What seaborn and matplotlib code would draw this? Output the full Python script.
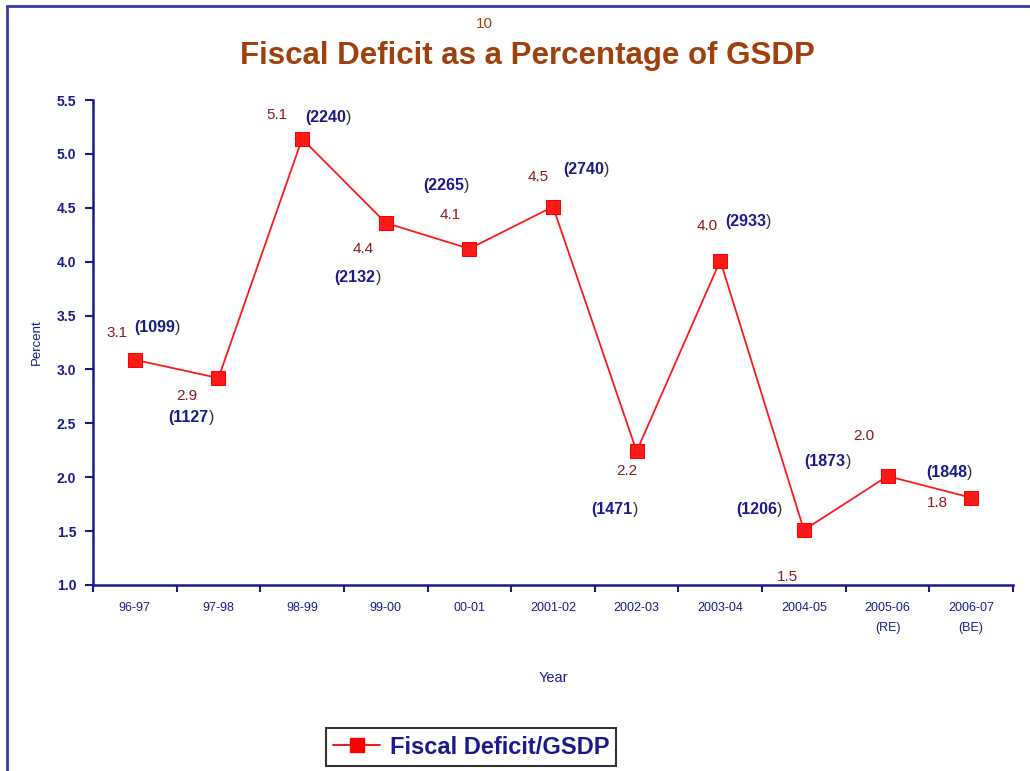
import seaborn as sns
import matplotlib.pyplot as plt
import pandas as pd
from matplotlib.lines import Line2D

years = ["96-97", "97-98", "98-99", "99-00", "00-01", "2001-02", "2002-03",
         "2003-04", "2004-05", "2005-06\n(RE)", "2006-07\n(BE)"]
deficit_pct = [3.09, 2.92, 5.14, 4.36, 4.12, 4.51, 2.24, 4.01, 1.51, 2.01, 1.81]
deficit_amt = [1099, 1127, 2240, 2132, 2265, 2740, 1471, 2933, 1206, 1873, 1848]

# label offsets in pixels from each point (value label centred, amount label left-aligned)
pct_off = [(-18, 27), (-32, -18), (-25, 24), (-23, -26), (-19, 34), (-15, 30),
           (-10, -20), (-13, 35), (-16, -47), (-24, 40), (-34, -5)]
amt_off = [(-1, 32), (-50, -39), (3, 21), (-51, -55), (-46, 63), (10, 37),
           (-45, -58), (5, 39), (-68, 21), (-83, 15), (-45, 25)]

navy = "#1a1a8c"
brown = "#a0400c"
val_col = "#8b1a1a"

df = pd.DataFrame({"Year": years, "Percent": deficit_pct})

sns.set_style("white")
plt.rcParams["font.family"] = ["Liberation Sans", "DejaVu Sans"]

fig = plt.figure(figsize=(10.3, 7.71), dpi=100)
ax = fig.add_axes([93 / 1030, 1 - 585 / 771, (1013 - 93) / 1030, (585 - 100) / 771])

sns.lineplot(data=df, x="Year", y="Percent", ax=ax, color="#ff1a1a", linewidth=1.3,
             marker="s", markersize=10.5, markeredgecolor="red", sort=False)

ax.set_xlim(-0.5, len(years) - 0.5)
ax.set_ylim(1.0, 5.5)
ax.set_yticks([1.0, 1.5, 2.0, 2.5, 3.0, 3.5, 4.0, 4.5, 5.0, 5.5])
ax.set_yticklabels([f"{v:.1f}" for v in ax.get_yticks()], fontsize=10,
                   fontweight="bold", color=navy)
ax.set_xticks(range(len(years)))
ax.set_xticklabels(years, fontsize=9, color=navy, linespacing=1.9)
ax.set_xticks([i - 0.5 for i in range(len(years) + 1)], minor=True)
ax.tick_params(axis="x", which="major", bottom=False, length=0, pad=12)
ax.tick_params(axis="x", which="minor", bottom=True, length=5, width=1.5,
               color=navy, direction="out")
ax.tick_params(axis="y", left=True, length=6, width=1.5, color=navy,
               direction="out", pad=6)

for side in ["top", "right"]:
    ax.spines[side].set_visible(False)
for side in ["left", "bottom"]:
    ax.spines[side].set_color(navy)
    ax.spines[side].set_linewidth(1.8)

ax.set_xlabel("Year", fontsize=10.5, color=navy, labelpad=27)
ax.set_ylabel("Percent", fontsize=9.5, color=navy, labelpad=10)

for i, (v, a) in enumerate(zip(deficit_pct, deficit_amt)):
    ax.annotate(f"{v:.1f}", xy=(i, v), xytext=pct_off[i], textcoords="offset pixels",
                ha="center", va="center", fontsize=11, color=val_col)
    t = ax.annotate(f"({a}", xy=(i, v), xytext=amt_off[i], textcoords="offset pixels",
                    ha="left", va="center", fontsize=11.5, fontweight="bold", color=navy)
    ax.annotate(")", xy=(1, 0.5), xycoords=t, ha="left", va="center",
                fontsize=11.5, color="#333333")

fig.text(484 / 1030, 1 - 24 / 771, "10", ha="center", va="center",
         fontsize=11, color=brown)
fig.text(527 / 1030, 1 - 56 / 771, "Fiscal Deficit as a Percentage of GSDP",
         ha="center", va="center", fontsize=22.5, fontweight="bold", color=brown)

handle = Line2D([], [], color="red", marker="s", markersize=10.5, linewidth=1.3)
leg = fig.legend([handle], ["Fiscal Deficit/GSDP"], loc="center",
                 bbox_to_anchor=(471 / 1030, 1 - 747 / 771), frameon=True,
                 fancybox=False, handlelength=2.0, handletextpad=0.4,
                 borderpad=0.3, borderaxespad=0,
                 prop={"size": 17, "weight": "bold"})
leg.get_frame().set_edgecolor("black")
leg.get_frame().set_linewidth(1.5)
for txt in leg.get_texts():
    txt.set_color(navy)

# outer frame (only the left and top edges are visible in the original)
fig.add_artist(Line2D([7 / 1030, 7 / 1030], [0, 1 - 6 / 771], color="#3a3aa8", linewidth=2))
fig.add_artist(Line2D([7 / 1030, 1], [1 - 6 / 771, 1 - 6 / 771], color="#3a3aa8", linewidth=2))

fig.savefig("out.png", dpi=100)
